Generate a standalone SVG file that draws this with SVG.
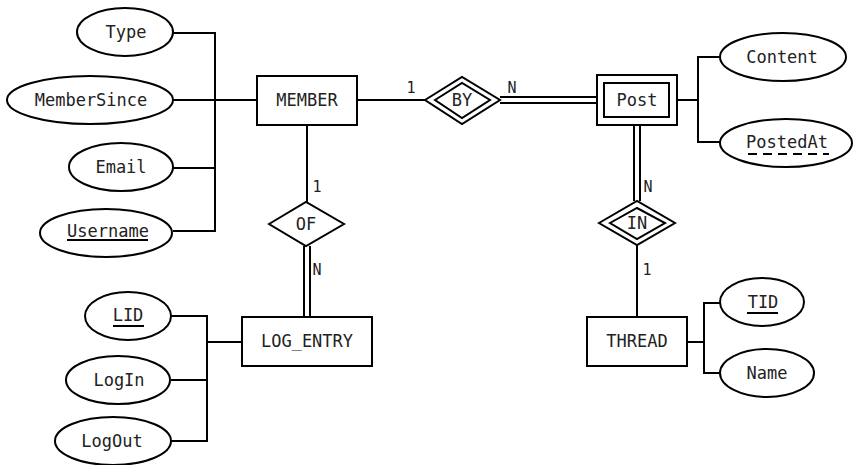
<svg xmlns="http://www.w3.org/2000/svg" width="854" height="465" viewBox="0 0 854 465">
<style>
.s{fill:#fff;stroke:#000;stroke-width:2}
.l{fill:none;stroke:#000;stroke-width:2}
text{font-family:"DejaVu Sans Mono","Liberation Mono",monospace;font-size:17px;fill:#222;text-anchor:middle}
.c{font-size:15px}
</style>
<rect width="854" height="465" fill="#fff"/>
<g id="connectors">
<path class="l" d="M173,33H215V231H173M173,100H257M173,168H215"/>
<path class="l" d="M357,100H425"/>
<path class="l" d="M500,97H597M500,103H597"/>
<path class="l" d="M677,100H698M720,57H698V142H720"/>
<path class="l" d="M634,125V201M640,125V201"/>
<path class="l" d="M637,245V317"/>
<path class="l" d="M687,342H704M720,303H704V373H720"/>
<path class="l" d="M307,125V202"/>
<path class="l" d="M304,246V317M310,246V317"/>
<path class="l" d="M242,342H207M171,316H207V441H171M171,380H207"/>
<text class="c" x="411" y="93">1</text>
<text class="c" x="512" y="93">N</text>
<text class="c" x="648" y="192">N</text>
<text class="c" x="647" y="275">1</text>
<text class="c" x="317" y="192">1</text>
<text class="c" x="317" y="275">N</text>
</g>
<g id="Type"><ellipse class="s" cx="125" cy="32" rx="48" ry="24"/><text x="126" y="38">Type</text></g>
<g id="MemberSince"><ellipse class="s" cx="90" cy="100" rx="83" ry="24"/><text x="91" y="106">MemberSince</text></g>
<g id="Email"><ellipse class="s" cx="121" cy="167" rx="52" ry="24"/><text x="121" y="173">Email</text></g>
<g id="Username"><ellipse class="s" cx="106" cy="233" rx="66" ry="24"/><text x="108" y="237">Username</text><path class="l" d="M67,240H148"/></g>
<g id="MEMBER"><rect class="s" x="257" y="76" width="100" height="49"/><text x="307" y="106">MEMBER</text></g>
<g id="BY"><polygon class="s" points="425,100 462,77 500,100 462,124"/><polygon class="s" points="435,100 462,83 490,100 462,118"/><text x="462" y="106">BY</text></g>
<g id="Post"><rect class="s" x="597" y="75" width="80" height="50"/><rect class="s" x="604" y="83" width="65" height="34"/><text x="637" y="106">Post</text></g>
<g id="Content"><ellipse class="s" cx="783" cy="57" rx="63" ry="24"/><text x="782" y="63">Content</text></g>
<g id="PostedAt"><ellipse class="s" cx="786" cy="143" rx="66" ry="24"/><text x="787" y="148">PostedAt</text><path class="l" d="M748,154H829" stroke-dasharray="9,6"/></g>
<g id="IN"><polygon class="s" points="599,223 637,201 675,223 637,245"/><polygon class="s" points="610,223 637,208 665,223 637,239"/><text x="637" y="229">IN</text></g>
<g id="THREAD"><rect class="s" x="587" y="317" width="100" height="49"/><text x="637" y="347">THREAD</text></g>
<g id="TID"><ellipse class="s" cx="762" cy="302" rx="42" ry="24"/><text x="763" y="308">TID</text><path class="l" d="M747,313H778"/></g>
<g id="Name"><ellipse class="s" cx="767" cy="373" rx="47" ry="24"/><text x="767" y="379">Name</text></g>
<g id="OF"><polygon class="s" points="269,224 306,202 344,224 306,246"/><text x="306" y="230">OF</text></g>
<g id="LOG_ENTRY"><rect class="s" x="242" y="317" width="130" height="49"/><text x="307" y="347">LOG_ENTRY</text></g>
<g id="LID"><ellipse class="s" cx="128" cy="316" rx="43" ry="24"/><text x="128" y="321">LID</text><path class="l" d="M113,326H144"/></g>
<g id="LogIn"><ellipse class="s" cx="118" cy="380" rx="52" ry="24"/><text x="119" y="386">LogIn</text></g>
<g id="LogOut"><ellipse class="s" cx="113" cy="441" rx="58" ry="24"/><text x="112" y="447">LogOut</text></g>
</svg>
